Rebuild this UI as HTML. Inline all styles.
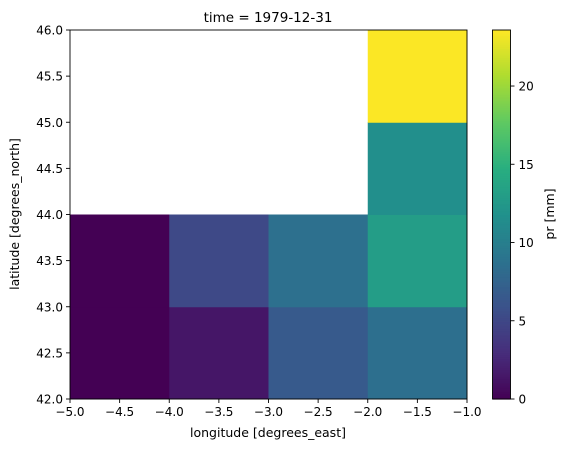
<!DOCTYPE html>
<html><head><meta charset="utf-8"><style>
body{margin:0;background:#fff;}
svg{display:block;font-family:"DejaVu Sans","Liberation Sans",sans-serif;}
</style></head><body>
<svg id="chart" width="567" height="453" xmlns="http://www.w3.org/2000/svg">
<g id="cells"></g>
<g id="axes"></g>
<text x="268" y="22" font-size="13.5" text-anchor="middle">time = 1979-12-31</text>
<text x="268" y="437" font-size="12.5" text-anchor="middle">longitude [degrees_east]</text>
<text transform="translate(19,214) rotate(-90)" font-size="12.5" text-anchor="middle">latitude [degrees_north]</text>
<text transform="translate(554,214) rotate(-90)" font-size="12.5" text-anchor="middle">pr [mm]</text>
</svg>
<script>
const lonEdges = [-5, -4, -3, -2, -1];
const latEdges = [42, 43, 44, 45, 46];
// values[row][col], row 0 = lat 42-43
const row42 = [0.0, 1.4, 6.6, 8.6];
const row43 = [0.0, 5.2, 8.7, 13.0];
const row44 = [null, null, null, 11.6];
const row45 = [null, null, null, 23.5];
const values = [row42, row43, row44, row45];
const xTicks = [-5.0, -4.5, -4.0, -3.5, -3.0, -2.5, -2.0, -1.5, -1.0];
const yTicks = [42.0, 42.5, 43.0, 43.5, 44.0, 44.5, 45.0, 45.5, 46.0];
const cbTicks = [0, 5, 10, 15, 20];
const vmin = 0, vmax = 23.58;

const L=70,R=467,T=30,B=399;
const xS = v => L + (v - (-5)) / 4 * (R - L);
const yS = v => B - (v - 42) / 4 * (B - T);
const cbL=492.5, cbR=510.5;
const cS = v => B - (v - vmin) / (vmax - vmin) * (B - T);

const vir=["#440154","#472d7b","#3b528b","#2c728e","#21918c","#28ae80","#5ec962","#addc30","#fde725"];
function hx(h){return [1,3,5].map(i=>parseInt(h.substr(i,2),16));}
function viridis(t){t=Math.max(0,Math.min(1,t));const p=t*8,i=Math.min(7,Math.floor(p)),f=p-i;
 const a=hx(vir[i]),b=hx(vir[i+1]);return "rgb("+a.map((c,k)=>Math.round(c+(b[k]-c)*f)).join(",")+")";}
const NS="http://www.w3.org/2000/svg";
function mk(tag,attrs,parent,text){const e=document.createElementNS(NS,tag);for(const k in attrs)e.setAttribute(k,attrs[k]);if(text!==undefined)e.textContent=text;parent.appendChild(e);return e;}
const cells=document.getElementById('cells'), axes=document.getElementById('axes');
values.forEach((row,r)=>row.forEach((v,c)=>{
 if(v===null)return;
 const x0=xS(lonEdges[c]),x1=xS(lonEdges[c+1]),y0=yS(latEdges[r+1]),y1=yS(latEdges[r]);
 const el=mk('rect',{x:x0,y:y0,width:x1-x0+0.5,height:y1-y0+0.5,fill:viridis((v-vmin)/(vmax-vmin))},cells);
 
 
}));
const frame=mk('rect',{x:L,y:T,width:R-L,height:B-T,fill:'none',stroke:'#000','stroke-width':0.9},axes);


xTicks.forEach(v=>{const x=xS(v);
 mk('line',{x1:x,x2:x,y1:B,y2:B+4,stroke:'#000','stroke-width':0.9},axes);
 const t=mk('text',{x:x,y:B+17,'font-size':12,'text-anchor':'middle'},axes,v.toFixed(1).replace('-','\u2212'));
 
 });
yTicks.forEach(v=>{const y=yS(v);
 mk('line',{x1:L-4,x2:L,y1:y,y2:y,stroke:'#000','stroke-width':0.9},axes);
 const t=mk('text',{x:L-7,y:y+4.5,'font-size':12,'text-anchor':'end'},axes,v.toFixed(1));
 
 });
const cb=mk('g',{},axes);


for(let i=0;i<200;i++){const v0=vmin+(vmax-vmin)*i/200,v1=vmin+(vmax-vmin)*(i+1)/200;
 mk('rect',{x:cbL,y:cS(v1),width:cbR-cbL,height:cS(v0)-cS(v1)+0.6,fill:viridis((v0+v1)/2/(vmax-vmin))},cb);}
mk('rect',{x:cbL,y:T,width:cbR-cbL,height:B-T,fill:'none',stroke:'#000','stroke-width':0.9},cb);
cbTicks.forEach(v=>{const y=cS(v);
 mk('line',{x1:cbR,x2:cbR+4,y1:y,y2:y,stroke:'#000','stroke-width':0.9},cb);
 const t=mk('text',{x:cbR+8,y:y+4.5,'font-size':12},cb,String(v));
 
 });
</script>
</body></html>
